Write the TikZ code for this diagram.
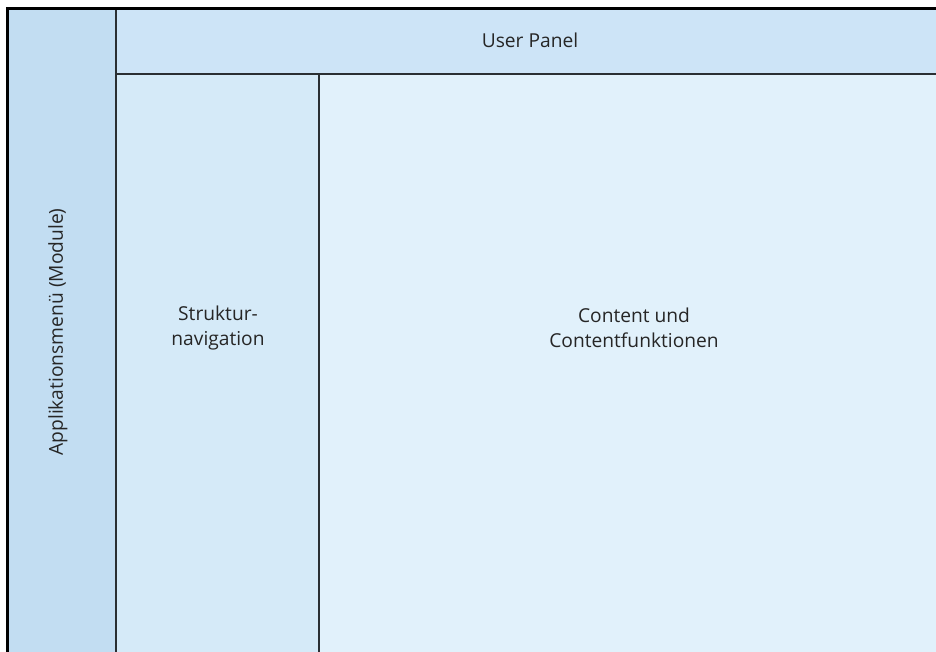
\documentclass[tikz,border=0pt]{standalone}
\usepackage{fontspec}
\setmainfont{Open Sans}
\definecolor{cleft}{HTML}{C2DDF2}
\definecolor{ctop}{HTML}{CDE4F7}
\definecolor{cnav}{HTML}{D5EAF8}
\definecolor{ccont}{HTML}{E1F1FB}
\definecolor{cline}{HTML}{2A2F33}
\begin{document}
\begin{tikzpicture}[x=1pt,y=-1pt,
  panel/.style={draw=cline,line width=2pt},
  lbl/.style={font=\fontsize{19.2}{25}\selectfont,text=black!85,align=center}]
\useasboundingbox (0,0) rectangle (936,651);
\fill[white] (0,0) rectangle (936,651);
\filldraw[panel,fill=ccont] (319,74) rectangle (940,655);
\filldraw[panel,fill=cnav] (116,74) rectangle (319,655);
\filldraw[panel,fill=ctop] (116,8) rectangle (940,74);
\filldraw[panel,fill=cleft] (7,8) rectangle (116,655);
\draw[black,line width=3pt] (7,655) -- (7,8) -- (940,8);
\node[lbl] (top) at (530,40) {User Panel};
\node[lbl] (nav) at (218,328) {Struktur-\\navigation};
\node[lbl] (cont) at (634,328) {Content und\\Contentfunktionen};
\node[lbl,rotate=90] (left) at (58,332) {Applikationsmenü (Module)};
\end{tikzpicture}
\end{document}
